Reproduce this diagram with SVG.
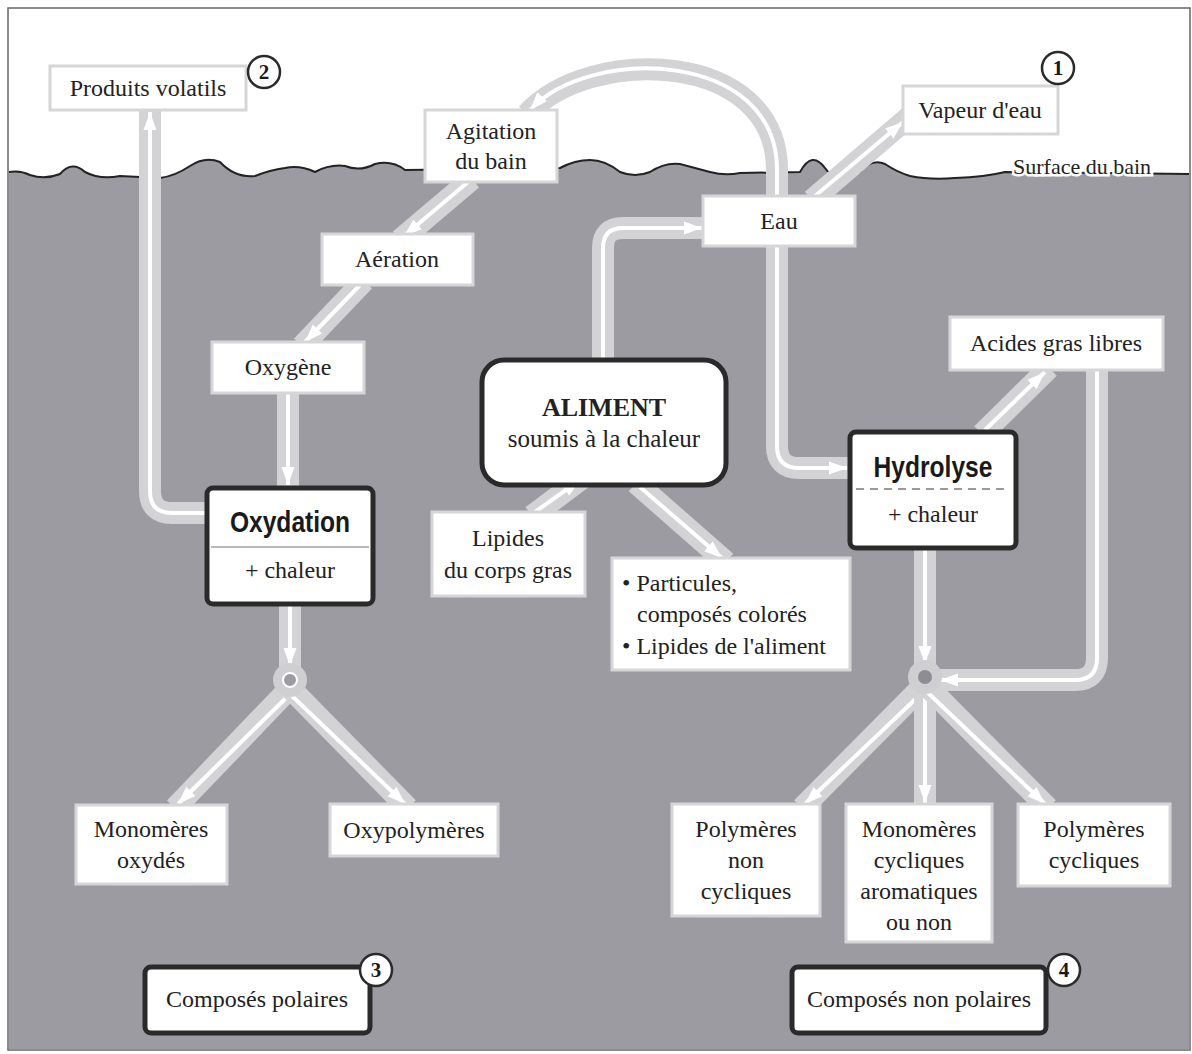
<svg xmlns="http://www.w3.org/2000/svg" width="1192" height="1054" viewBox="0 0 1192 1054">
<defs>
<style>
.t{font-family:"Liberation Serif","Times New Roman",serif;font-size:24px;fill:#222;text-anchor:middle}
.tl{font-family:"Liberation Serif","Times New Roman",serif;font-size:24px;fill:#222}
.b{fill:#fff;stroke:#d6d6d8;stroke-width:3}
.k{fill:#fff;stroke:#2a2a2a;stroke-width:5}
.band{fill:none;stroke:#d3d3d5;stroke-width:22}
.core{fill:none;stroke:#fff;stroke-width:4;marker-end:url(#ah)}
.cond{font-family:"Liberation Sans",Arial,sans-serif;font-weight:bold;font-size:30px;fill:#1a1a1a;text-anchor:middle}
.num{fill:#fff;stroke:#2a2a2a;stroke-width:2.5}
.nt{font-family:"Liberation Serif","Times New Roman",serif;font-weight:bold;font-size:21px;fill:#1a1a1a;text-anchor:middle}
</style>
<marker id="ah" markerUnits="userSpaceOnUse" markerWidth="22" markerHeight="16" refX="18" refY="8" orient="auto">
<path d="M0,1.5 L18,8 L0,14.5 z" fill="#fff"/>
</marker>
</defs>
<g id="background">
<rect x="8" y="8" width="1182" height="1042" fill="#fff" stroke="#666" stroke-width="1.5"/>
<path d="M9,172 Q20,170 30,175 Q45,180 60,174 Q72,160 85,172 Q100,180 120,176 L160,178 Q175,176 190,166 Q205,156 220,162 Q235,178 255,176 Q270,170 285,168 Q300,165 315,172 Q330,164 345,166 Q360,172 375,164 Q392,160 405,170 L560,168 Q575,160 590,160 Q605,160 620,172 Q635,178 650,172 Q665,162 680,164 Q695,168 710,172 Q725,176 740,173 L800,172 Q812,150 825,168 Q830,176 840,176 L860,172 Q872,158 885,164 Q897,172 910,176 Q930,180 955,178 Q985,177 1005,172 L1189,174 L1189,1049 L9,1049 Z" fill="#9c9ba1"/>
<path d="M9,172 Q20,170 30,175 Q45,180 60,174 Q72,160 85,172 Q100,180 120,176 L160,178 Q175,176 190,166 Q205,156 220,162 Q235,178 255,176 Q270,170 285,168 Q300,165 315,172 Q330,164 345,166 Q360,172 375,164 Q392,160 405,170 L560,168 Q575,160 590,160 Q605,160 620,172 Q635,178 650,172 Q665,162 680,164 Q695,168 710,172 Q725,176 740,173 L800,172 Q812,150 825,168 Q830,176 840,176 L860,172 Q872,158 885,164 Q897,172 910,176 Q930,180 955,178 Q985,177 1005,172 L1189,174" fill="none" stroke="#222" stroke-width="2"/>
</g>
<g id="connectors">
<path class="band" d="M210,513 L172,513 Q150,513 150,491 L150,108"/>
<path class="core" d="M205,513 L172,513 Q150,513 150,491 L150,112"/>
<path class="band" d="M472,179 L400,240"/>
<path class="core" d="M468,182 L404,236"/>
<path class="band" d="M364,281 L302,346"/>
<path class="core" d="M360,285 L305,342"/>
<path class="band" d="M288,390 L288,490"/>
<path class="core" d="M288,393 L288,485"/>
<path class="band" d="M777,200 L777,170 C777,50 590,45 527,114"/>
<path class="core" d="M777,196 L777,170 C777,50 590,45 530,110"/>
<path class="band" d="M603,362 L603,248 Q603,228 623,228 L706,228"/>
<path class="core" d="M603,358 L603,248 Q603,228 623,228 L702,228"/>
<path class="band" d="M812,200 L910,116"/>
<path class="core" d="M815,196 L903,122"/>
<path class="band" d="M777,242 L777,446 Q777,468 799,468 L852,468"/>
<path class="core" d="M777,246 L777,446 Q777,468 799,468 L847,468"/>
<path class="band" d="M982,434 L1049,368"/>
<path class="core" d="M985,430 L1045,372"/>
<path class="band" d="M1097,366 L1097,658 Q1097,680 1075,680 L930,680"/>
<path class="core" d="M1097,370 L1097,658 Q1097,680 1075,680 L940,680"/>
<path class="band" d="M925,546 L925,676"/>
<path class="core" d="M925,550 L925,664"/>
<path class="band" d="M925,684 L802,808"/>
<path class="core" d="M925,690 L805,804"/>
<path class="band" d="M925,684 L925,808"/>
<path class="core" d="M925,690 L925,803"/>
<path class="band" d="M925,684 L1048,808"/>
<path class="core" d="M925,690 L1045,804"/>
<path class="band" d="M290,602 L290,680"/>
<path class="core" d="M290,606 L290,666"/>
<path class="band" d="M290,688 L175,808"/>
<path class="core" d="M290,694 L178,804"/>
<path class="band" d="M290,688 L408,808"/>
<path class="core" d="M290,694 L405,804"/>
<path class="band" d="M532,516 L584,477"/>
<path class="core" d="M535,512 L580,480"/>
<path class="band" d="M636,483 L726,562"/>
<path class="core" d="M640,487 L722,558"/>
<circle cx="290" cy="680" r="17" fill="#cfcfd1"/>
<circle cx="290" cy="680" r="7" fill="#9c9ba1" stroke="#fff" stroke-width="2"/>
<circle cx="925" cy="677" r="17" fill="#cfcfd1"/>
<circle cx="925" cy="677" r="7" fill="#8e8d93"/>
</g>
<g id="surface-label">
<text class="tl" x="1013" y="174" stroke="#fff" stroke-width="5" paint-order="stroke" style="font-size:22px">Surface du bain</text>
</g>
<g id="produits-volatils">
<rect class="b" x="50" y="66" width="196" height="44"/>
<text class="t" x="148" y="96">Produits volatils</text>
<circle class="num" cx="264" cy="72" r="16"/>
<text class="nt" x="264" y="79">2</text>
</g>
<g id="vapeur-eau">
<rect class="b" x="903" y="86" width="155" height="48"/>
<text class="t" x="980" y="118">Vapeur d'eau</text>
<circle class="num" cx="1058" cy="68" r="16"/>
<text class="nt" x="1058" y="75">1</text>
</g>
<g id="agitation">
<rect class="b" x="425" y="110" width="132" height="72"/>
<text class="t" x="491" y="139">Agitation</text>
<text class="t" x="491" y="169">du bain</text>
</g>
<g id="eau">
<rect class="b" x="703" y="196" width="152" height="50"/>
<text class="t" x="779" y="229">Eau</text>
</g>
<g id="aeration">
<rect class="b" x="322" y="234" width="151" height="51"/>
<text class="t" x="397" y="267">Aération</text>
</g>
<g id="oxygene">
<rect class="b" x="212" y="342" width="152" height="51"/>
<text class="t" x="288" y="375">Oxygène</text>
</g>
<g id="aliment">
<rect class="k" x="482" y="360" width="244" height="125" rx="22"/>
<text class="t" x="604" y="416" style="font-weight:bold;font-size:26px">ALIMENT</text>
<text class="t" x="604" y="447" style="font-size:25px">soumis à la chaleur</text>
</g>
<g id="acides-gras">
<rect class="b" x="950" y="317" width="213" height="53"/>
<text class="t" x="1056" y="351">Acides gras libres</text>
</g>
<g id="hydrolyse">
<rect class="k" x="850" y="432" width="166" height="116" rx="6"/>
<text class="cond" transform="translate(933,477) scale(0.82,1)" x="0" y="0">Hydrolyse</text>
<line x1="856" y1="489" x2="1010" y2="489" stroke="#9a9a9a" stroke-width="2" stroke-dasharray="8,6"/>
<text class="t" x="933" y="522">+ chaleur</text>
</g>
<g id="oxydation">
<rect class="k" x="207" y="488" width="166" height="116" rx="6"/>
<text class="cond" transform="translate(290,532) scale(0.82,1)" x="0" y="0">Oxydation</text>
<line x1="211" y1="547" x2="369" y2="547" stroke="#b8b8b8" stroke-width="2"/>
<text class="t" x="290" y="578">+ chaleur</text>
</g>
<g id="lipides-corps-gras">
<rect class="b" x="432" y="512" width="153" height="84"/>
<text class="t" x="508" y="546">Lipides</text>
<text class="t" x="508" y="578">du corps gras</text>
</g>
<g id="particules">
<rect class="b" x="612" y="558" width="238" height="112"/>
<text class="tl" x="622" y="591">• Particules,</text>
<text class="tl" x="637" y="622">composés colorés</text>
<text class="tl" x="622" y="654">• Lipides de l'aliment</text>
</g>
<g id="monomeres-oxydes">
<rect class="b" x="76" y="805" width="151" height="79"/>
<text class="t" x="151" y="837">Monomères</text>
<text class="t" x="151" y="868">oxydés</text>
</g>
<g id="oxypolymeres">
<rect class="b" x="330" y="804" width="168" height="52"/>
<text class="t" x="414" y="838">Oxypolymères</text>
</g>
<g id="polymeres-non-cycliques">
<rect class="b" x="672" y="804" width="148" height="112"/>
<text class="t" x="746" y="837">Polymères</text>
<text class="t" x="746" y="868">non</text>
<text class="t" x="746" y="899">cycliques</text>
</g>
<g id="monomeres-cycliques">
<rect class="b" x="846" y="804" width="146" height="138"/>
<text class="t" x="919" y="837">Monomères</text>
<text class="t" x="919" y="868">cycliques</text>
<text class="t" x="919" y="899">aromatiques</text>
<text class="t" x="919" y="930">ou non</text>
</g>
<g id="polymeres-cycliques">
<rect class="b" x="1018" y="804" width="152" height="82"/>
<text class="t" x="1094" y="837">Polymères</text>
<text class="t" x="1094" y="868">cycliques</text>
</g>
<g id="composes-polaires">
<rect class="k" x="145" y="967" width="225" height="66" rx="6"/>
<text class="t" x="257" y="1007">Composés polaires</text>
<circle class="num" cx="376" cy="970" r="16"/>
<text class="nt" x="376" y="977">3</text>
</g>
<g id="composes-non-polaires">
<rect class="k" x="792" y="967" width="254" height="66" rx="6"/>
<text class="t" x="919" y="1007">Composés non polaires</text>
<circle class="num" cx="1064" cy="970" r="16"/>
<text class="nt" x="1064" y="977">4</text>
</g>
</svg>
